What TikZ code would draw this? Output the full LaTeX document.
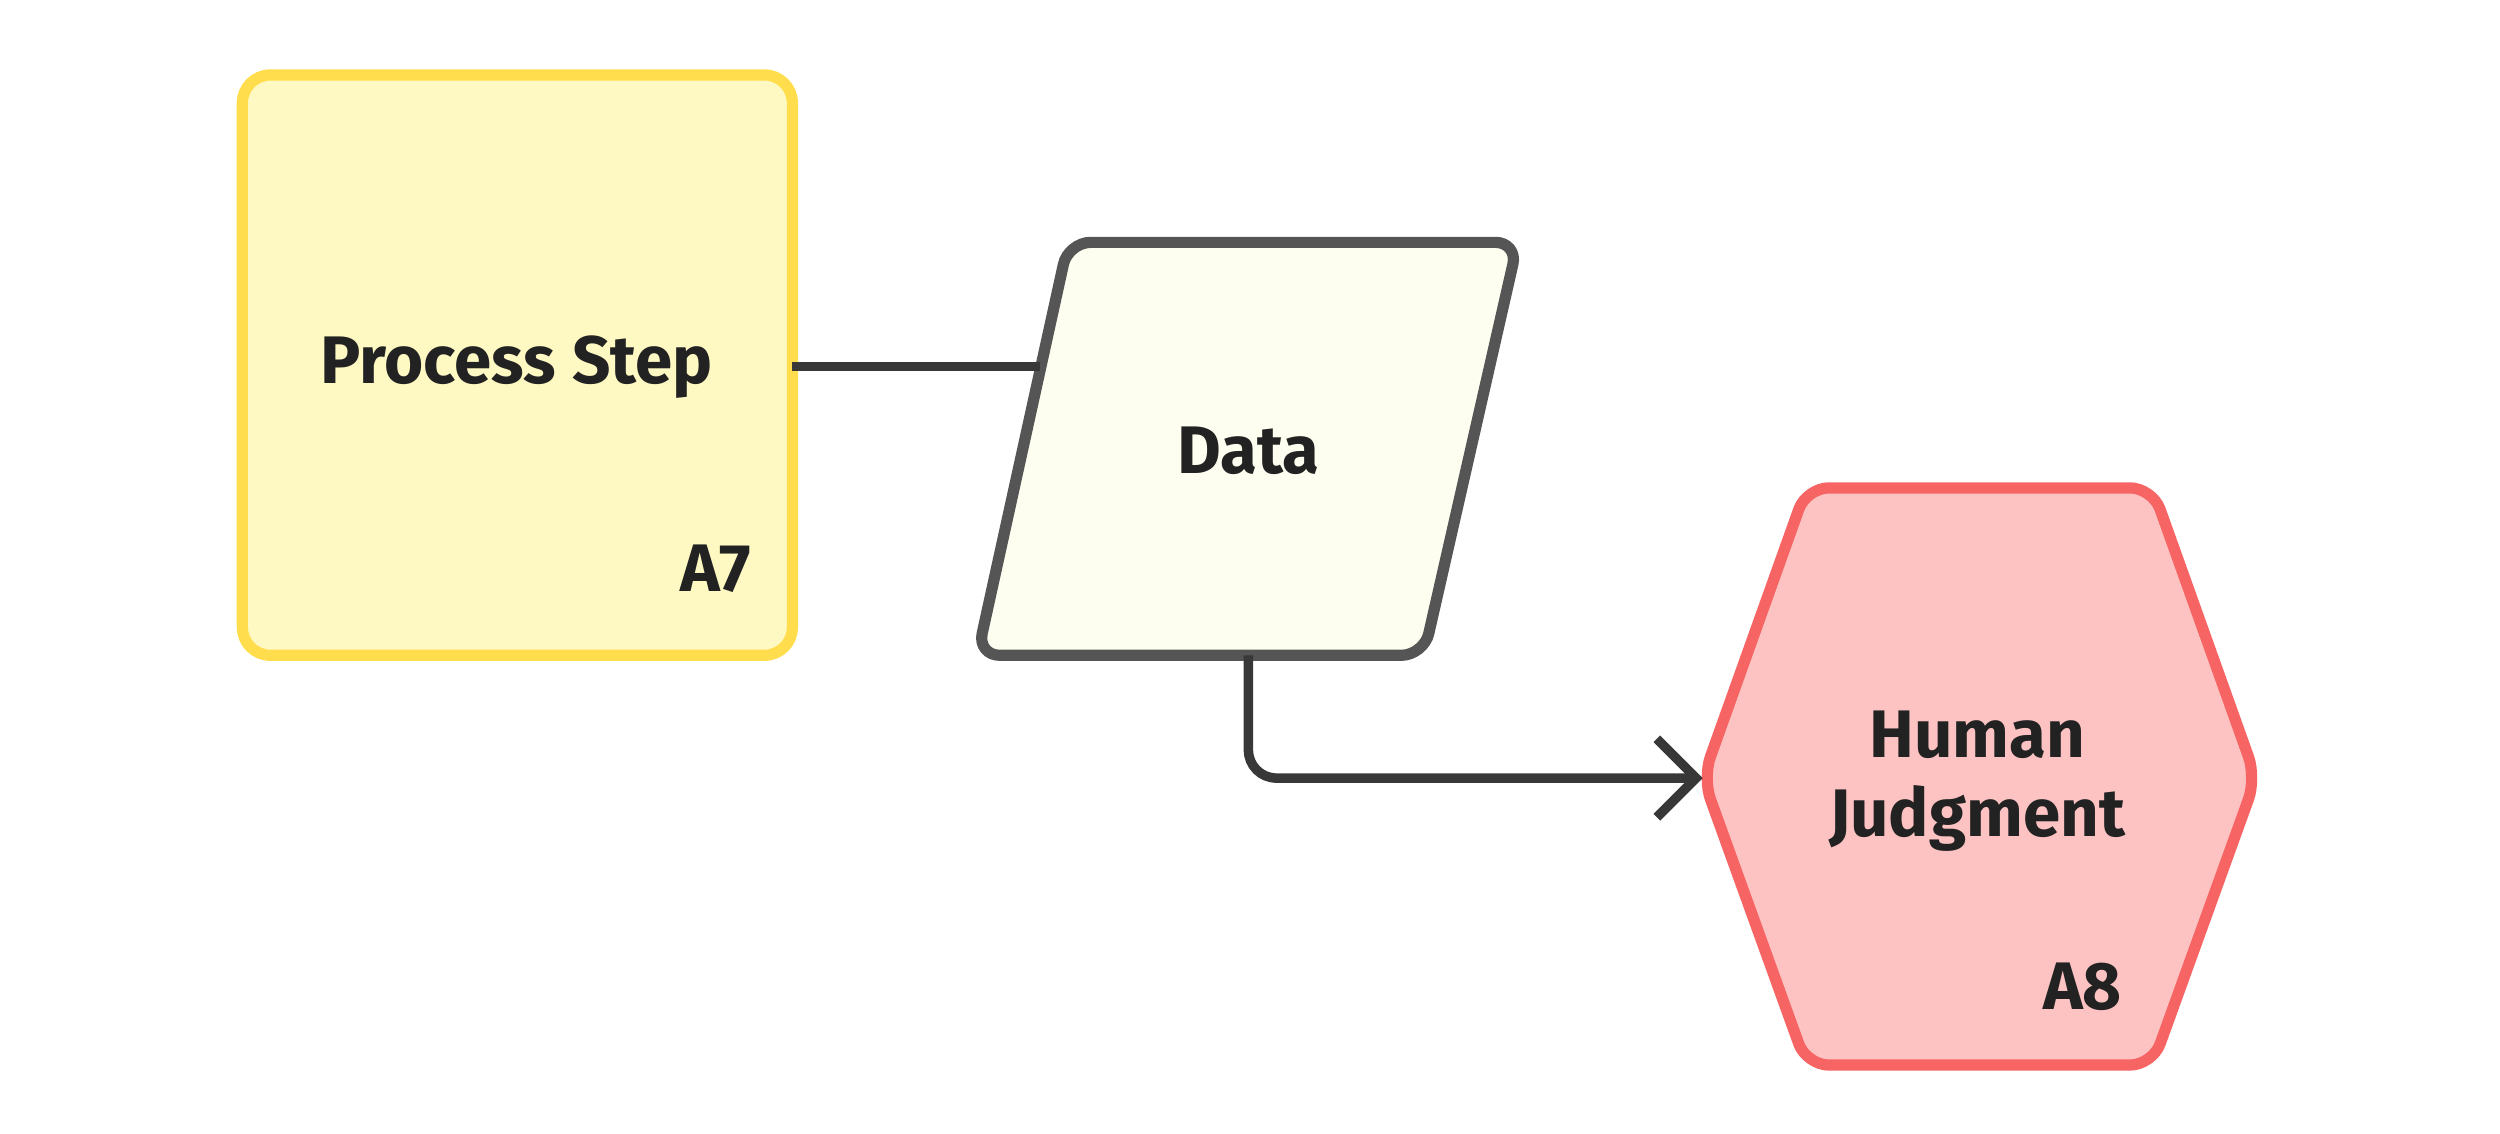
\documentclass[tikz,border=0pt]{standalone}
\usepackage{fontspec}
\setmainfont{Fira Sans}
\usetikzlibrary{arrows.meta}
\definecolor{yfill}{HTML}{FEF8C2}
\definecolor{ystroke}{HTML}{FFDD4D}
\definecolor{dfill}{HTML}{FEFEF0}
\definecolor{dstroke}{HTML}{555555}
\definecolor{rfill}{HTML}{FDC3C3}
\definecolor{rstroke}{HTML}{F76464}
\definecolor{ink}{HTML}{222222}
\begin{document}
\begin{tikzpicture}[x=0.02cm,y=-0.02cm,
  lbl/.style={font=\fontsize{24}{28}\selectfont\bfseries, text=ink, align=center},
  conn/.style={draw=ink!90, line width=3.4pt}]
\useasboundingbox (0,0) rectangle (1568,711);
% yellow process
\draw[fill=yfill, draw=ystroke, line width=4pt, rounded corners=10pt] (152,47) rectangle (497,411);
\node[lbl] (ps) at (324,230) {Process Step};
\node[lbl, anchor=south east] (a7) at (477,378) {A7};
\coordinate (psr) at (497,230);
% data
\draw[fill=dfill, draw=dstroke, line width=4pt, rounded corners=8pt] (670,152) -- (952,152) -- (893,411) -- (613,411) -- cycle;
\node[lbl] (d) at (783,283) {Data};
\coordinate (dl) at (652,230);
\coordinate (db) at (783,411);
% hexagon
\draw[fill=rfill, draw=rstroke, line width=4pt, rounded corners=8pt] (1133,306) -- (1350,306) -- (1415,488) -- (1350,668) -- (1133,668) -- (1068,488) -- cycle;
\node[lbl] (hj) at (1240,490) {Human\\Judgment};
\node[lbl, anchor=south east] (a8) at (1337,640) {A8};
\coordinate (hl) at (1068,488);
% connectors
\draw[conn] (psr) -- (dl);
\draw[conn, rounded corners=10pt, -{Straight Barb[length=14pt,width=28pt,line width=3.4pt]}] (db) -- (783,488) -- (hl);
\end{tikzpicture}
\end{document}
